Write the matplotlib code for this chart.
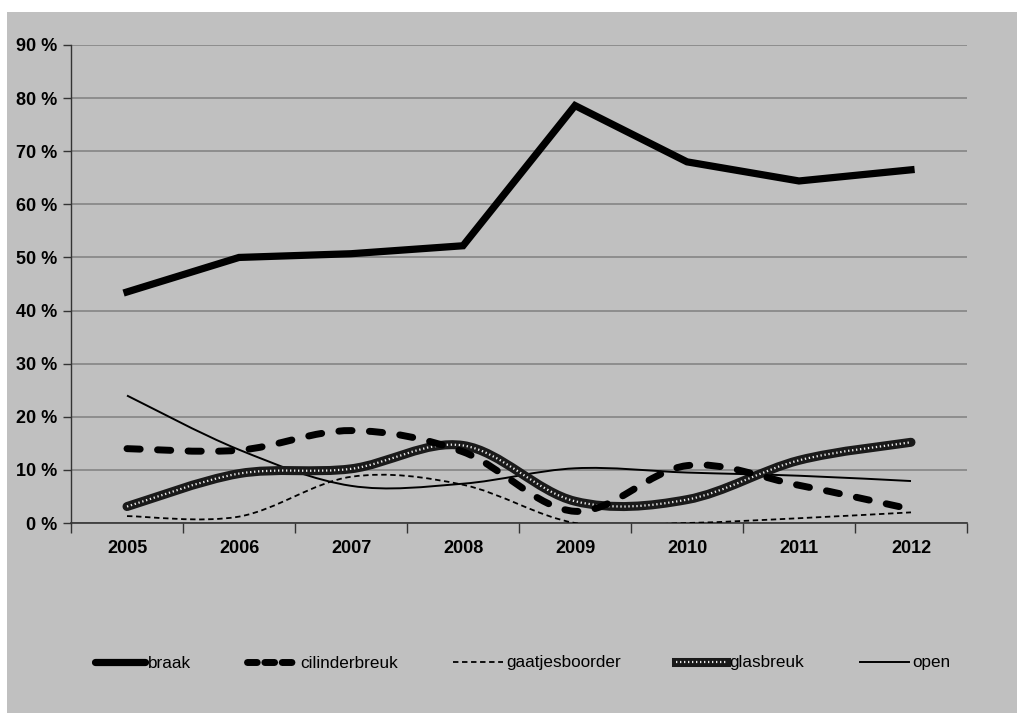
import numpy as np
import matplotlib
matplotlib.use("Agg")
import matplotlib.pyplot as plt
from matplotlib.path import Path
from matplotlib.patches import PathPatch, Rectangle
from matplotlib.lines import Line2D

plt.rcParams['font.family'] = ['Liberation Sans Narrow', 'Liberation Sans', 'DejaVu Sans']

years = ['2005', '2006', '2007', '2008', '2009', '2010', '2011', '2012']
braak = [43.5, 50.0, 50.7, 52.2, 78.6, 68.0, 64.4, 66.5]
cilinderbreuk = [14.0, 13.7, 17.4, 13.4, 2.2, 10.8, 7.1, 2.6]
gaatjesboorder = [1.3, 1.2, 8.7, 7.2, 0.0, 0.0, 0.9, 2.0]
glasbreuk = [3.1, 9.3, 10.2, 14.6, 4.1, 4.4, 11.8, 15.2]
open_ = [24.0, 13.8, 7.0, 7.4, 10.3, 9.5, 8.9, 7.9]
yticks = [0, 10, 20, 30, 40, 50, 60, 70, 80, 90]

W, H = 1017, 713
fig = plt.figure(figsize=(W / 100, H / 100), dpi=100)
fig.patch.set_facecolor('white')
fig.patches.append(Rectangle((7 / W, 0), 1 - 7 / W, (H - 12) / H,
                             transform=fig.transFigure, facecolor='#c0c0c0',
                             edgecolor='none', zorder=-10))

ax = fig.add_axes([71 / W, (H - 523) / H, (967 - 71) / W, (523 - 45) / H])
ax.set_facecolor('#c0c0c0')
x = np.arange(len(years))


def smooth_path(xs, ys):
    # Catmull-Rom style cubic bezier through the points (Excel "smoothed line")
    pts = np.column_stack([xs, ys]).astype(float)
    n = len(pts)
    verts = [pts[0]]
    codes = [Path.MOVETO]
    for i in range(n - 1):
        p0 = pts[max(i - 1, 0)]
        p1 = pts[i]
        p2 = pts[i + 1]
        p3 = pts[min(i + 2, n - 1)]
        c1 = p1 + (p2 - p0) / 6.0
        c2 = p2 - (p3 - p1) / 6.0
        verts += [c1, c2, p2]
        codes += [Path.CURVE4] * 3
    return Path(verts, codes)


def add_smooth(ys, **kw):
    p = PathPatch(smooth_path(x, ys), fill=False, transform=ax.transData, **kw)
    ax.add_patch(p)
    return p


# open
add_smooth(open_, edgecolor='black', lw=1.4, zorder=3)
# gaatjesboorder
add_smooth(gaatjesboorder, edgecolor='black', lw=1.3, linestyle=(0, (3, 2)), zorder=3)
# glasbreuk: textured thick line
add_smooth(glasbreuk, edgecolor='#1a1a1a', lw=6.5, capstyle='round', zorder=4)
add_smooth(glasbreuk, edgecolor='#e8e8e8', lw=1.6, linestyle=(0, (0.6, 1.2)), zorder=4.1)
# cilinderbreuk
add_smooth(cilinderbreuk, edgecolor='black', lw=5, linestyle=(0, (1.9, 2.5)),
           capstyle='round', zorder=5)
# braak (straight)
ax.plot(x, braak, color='black', lw=5.2, solid_joinstyle='miter', zorder=6)

ax.set_xlim(-0.5, len(years) - 0.5)
ax.set_ylim(0, 90)
ax.set_yticks(yticks)
ax.set_yticklabels([f'{v} %' for v in yticks], fontsize=13, fontweight='bold')
ax.yaxis.grid(True, color='#858585', lw=1.2)
ax.set_axisbelow(True)

ax.set_xticks(np.arange(-0.5, len(years), 1.0))
ax.set_xticklabels([])
ax.set_xticks(x, minor=True)
ax.set_xticklabels(years, minor=True, fontsize=13, fontweight='bold')
ax.tick_params(axis='x', which='major', length=7, direction='out', width=1, color='#333333')
ax.tick_params(axis='x', which='minor', length=0, pad=12)
ax.tick_params(axis='y', length=6, direction='out', width=1, color='#333333', pad=4)

for s in ['top', 'right']:
    ax.spines[s].set_visible(False)
ax.spines['left'].set_color('#333333')
ax.spines['bottom'].set_color('#333333')
ax.spines['left'].set_linewidth(1)
ax.spines['bottom'].set_linewidth(1.2)

handles = [
    Line2D([], [], color='black', lw=5.2, solid_capstyle='round'),
    Line2D([], [], color='black', lw=5, linestyle=(0, (1.4, 1.1)), dash_capstyle='round'),
    Line2D([], [], color='black', lw=1.3, linestyle=(0, (3, 2))),
    (Line2D([], [], color='#1a1a1a', lw=6.5),
     Line2D([], [], color='#e8e8e8', lw=1.6, linestyle=(0, (0.6, 1.2)))),
    Line2D([], [], color='black', lw=1.4),
]
labels = ['braak', 'cilinderbreuk', 'gaatjesboorder', 'glasbreuk', 'open']
fig.legend(handles, labels, loc='center left', bbox_to_anchor=(80 / W, (H - 663) / H),
           ncol=5, frameon=False, fontsize=12.3, handlelength=2.9, handletextpad=0.2,
           columnspacing=3.25)

fig.savefig('out.png', dpi=100, facecolor=fig.get_facecolor())
